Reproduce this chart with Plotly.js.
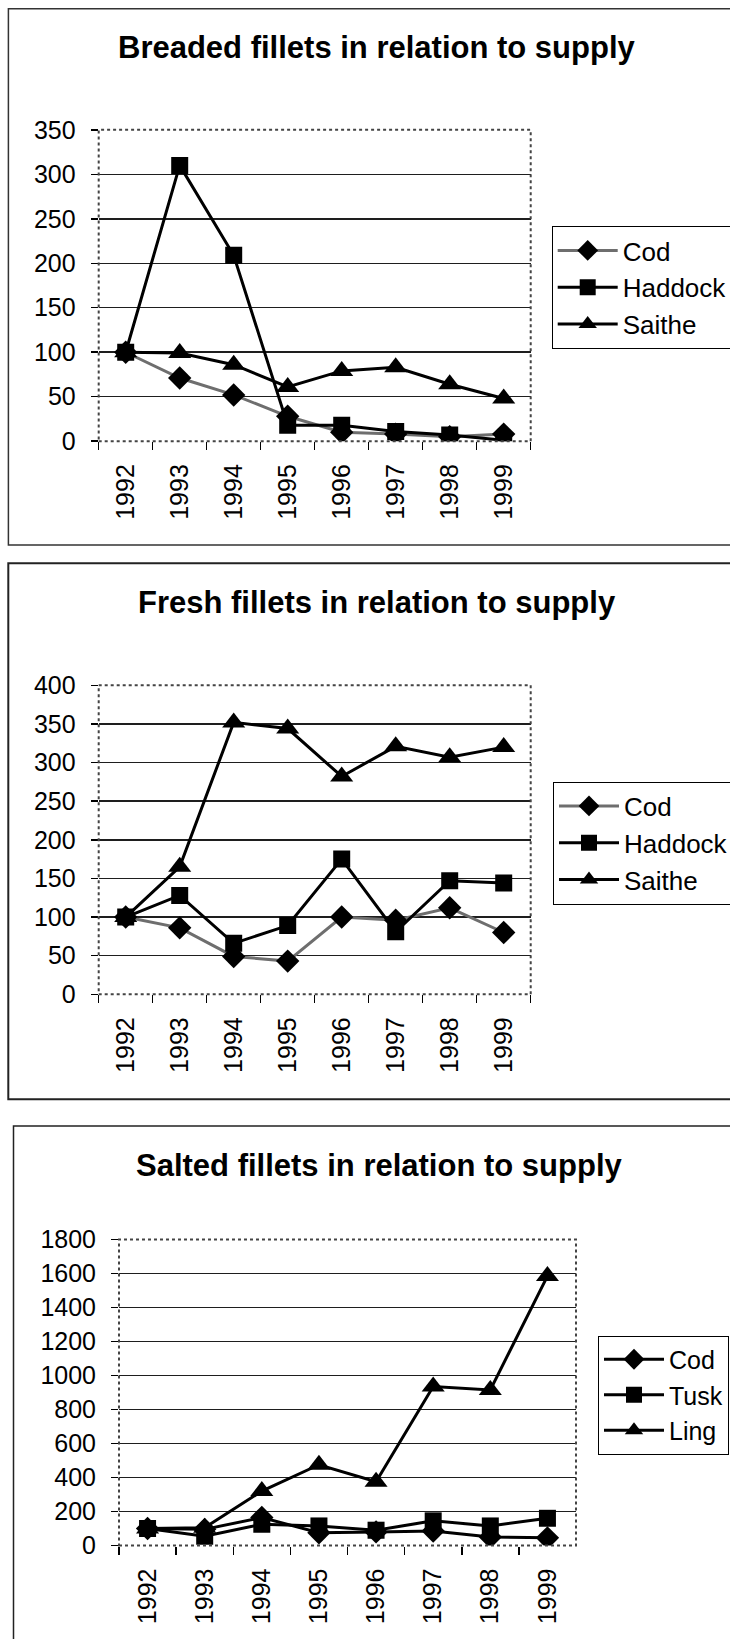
<!DOCTYPE html>
<html>
<head>
<meta charset="utf-8">
<script src="https://cdn.plot.ly/plotly-3.0.1.min.js"></script>
<style>
  html, body { margin: 0; padding: 0; background: #fff; overflow: hidden; }
  #chart { width: 730px; height: 1639px; }
</style>
</head>
<body>
<div id="chart"></div>
<script>
// ---- data ----
const years = ['1992', '1993', '1994', '1995', '1996', '1997', '1998', '1999'];

const titleBreaded = 'Breaded fillets in relation to supply';
const titleFresh = 'Fresh fillets in relation to supply';
const titleSalted = 'Salted fillets in relation to supply';

const breadedCod = [100, 71, 52, 28, 10, 8, 5, 8];
const breadedHaddock = [100, 310, 209, 18, 18, 11, 7, 1];
const breadedSaithe = [100, 99, 86, 61, 79, 83, 64, 48];

const freshCod = [100, 86, 49, 43, 100, 96, 112, 80];
const freshHaddock = [100, 128, 66, 89, 175, 81, 147, 144];
const freshSaithe = [100, 165, 352, 344, 282, 321, 307, 320];

const saltedCod = [100, 95, 165, 75, 80, 85, 50, 45];
const saltedTusk = [100, 55, 125, 115, 90, 145, 115, 160];
const saltedLing = [100, 105, 320, 475, 375, 935, 915, 1585];

const breadedYTicks = [0, 50, 100, 150, 200, 250, 300, 350];
const freshYTicks = [0, 50, 100, 150, 200, 250, 300, 350, 400];
const saltedYTicks = [0, 200, 400, 600, 800, 1000, 1200, 1400, 1600, 1800];

// ---- geometry helpers (pixels -> paper) ----
const W = 730, H = 1639;
const px = v => v / W;
const py = v => 1 - v / H;

const FONT = 'Liberation Sans, Arial, Helvetica, sans-serif';

function series(name, y, xa, ya, leg, symbol, size, color) {
  return {
    type: 'scatter', mode: 'lines+markers', name: name,
    x: years, y: y, xaxis: xa, yaxis: ya, legend: leg,
    legendgroup: leg + name,
    line: { color: color, width: 3 },
    marker: { symbol: symbol, size: size, color: '#000' }
  };
}

const grey = '#6e6e6e';
const data = [
  series('Cod', breadedCod, 'x', 'y', 'legend', 'diamond', 18, grey),
  series('Haddock', breadedHaddock, 'x', 'y', 'legend', 'square', 17, '#000'),
  series('Saithe', breadedSaithe, 'x', 'y', 'legend', 'triangle-up', 20, '#000'),
  series('Cod', freshCod, 'x2', 'y2', 'legend2', 'diamond', 18, grey),
  series('Haddock', freshHaddock, 'x2', 'y2', 'legend2', 'square', 17, '#000'),
  series('Saithe', freshSaithe, 'x2', 'y2', 'legend2', 'triangle-up', 20, '#000'),
  series('Cod', saltedCod, 'x3', 'y3', 'legend3', 'diamond', 18, '#000'),
  series('Tusk', saltedTusk, 'x3', 'y3', 'legend3', 'square', 17, '#000'),
  series('Ling', saltedLing, 'x3', 'y3', 'legend3', 'triangle-up', 20, '#000')
];

function xAxis(anchor, domain) {
  return {
    type: 'category', categoryorder: 'array', categoryarray: years,
    anchor: anchor, domain: domain, range: [-0.5, 7.5],
    tickson: 'boundaries', ticks: 'outside', ticklen: 8, tickwidth: 1.5, tickcolor: '#000',
    tickangle: -90, tickfont: { family: FONT, size: 25, color: '#000' },
    ticklabelstandoff: 17,
    showgrid: false, zeroline: false, showline: false, fixedrange: true
  };
}
function yAxis(anchor, domain, maxV, tickvals) {
  return {
    anchor: anchor, domain: domain, range: [0, maxV],
    tickmode: 'array', tickvals: tickvals,
    ticks: 'outside', ticklen: 7, tickwidth: 1.5, tickcolor: '#000',
    tickfont: { family: FONT, size: 25, color: '#000' },
    ticklabelstandoff: 10,
    showgrid: true, gridcolor: '#1e1e1e', gridwidth: 1.5,
    zeroline: false, showline: false, fixedrange: true
  };
}

const xd12 = [px(98.7), px(530.7)];
const xd3 = [px(119), px(576)];

function plotBorder(xr, yr) {
  return { type: 'rect', xref: xr + ' domain', yref: yr + ' domain', x0: 0, x1: 1, y0: 0, y1: 1,
    layer: 'above', line: { color: '#444', width: 2, dash: 'dot' } };
}

function legendBox(xPix, yTopPix, fontSize) {
  return {
    x: px(xPix), y: py(yTopPix), xanchor: 'left', yanchor: 'top',
    xref: 'paper', yref: 'paper',
    bordercolor: '#000', borderwidth: 1, bgcolor: '#fff',
    font: { family: FONT, size: fontSize, color: '#000' },
    itemwidth: 60, tracegroupgap: 3, traceorder: 'normal', itemsizing: 'trace'
  };
}

function title(text, xPix, yPix) {
  return {
    text: text, xref: 'paper', yref: 'paper', x: px(xPix), y: py(yPix),
    xanchor: 'center', yanchor: 'middle', showarrow: false,
    font: { family: FONT, size: 31, color: '#000', weight: 'bold' }
  };
}

const layout = {
  width: W, height: H,
  margin: { l: 0, r: 0, t: 0, b: 0, autoexpand: false },
  paper_bgcolor: '#fff', plot_bgcolor: '#fff',
  showlegend: true,
  xaxis: xAxis('y', xd12),
  yaxis: yAxis('x', [py(441.2), py(129.8)], 350, breadedYTicks),
  xaxis2: xAxis('y2', xd12),
  yaxis2: yAxis('x2', [py(994.3), py(685.3)], 400, freshYTicks),
  xaxis3: xAxis('y3', xd3),
  yaxis3: yAxis('x3', [py(1545.5), py(1239.5)], 1800, saltedYTicks),
  legend: legendBox(551.7, 226, 26),
  legend2: legendBox(553, 781.5, 26),
  legend3: legendBox(598, 1335.5, 25),
  annotations: [
    title(titleBreaded, 377, 47),
    title(titleFresh, 377, 602.6),
    title(titleSalted, 379.5, 1165.3)
  ],
  shapes: [
    { type: 'rect', xref: 'paper', yref: 'paper', x0: px(8.4), x1: px(760), y0: py(545), y1: py(8.8),
      line: { color: '#333', width: 1.5 } },
    { type: 'rect', xref: 'paper', yref: 'paper', x0: px(8.3), x1: px(760), y0: py(1099.3), y1: py(563.3),
      line: { color: '#222', width: 2 } },
    { type: 'rect', xref: 'paper', yref: 'paper', x0: px(13.5), x1: px(760), y0: py(1700), y1: py(1126),
      line: { color: '#222', width: 1.5 } },
    plotBorder('x', 'y'), plotBorder('x2', 'y2'), plotBorder('x3', 'y3')
  ]
};

Plotly.newPlot('chart', data, layout, { displayModeBar: false, staticPlot: true });
</script>
</body>
</html>
